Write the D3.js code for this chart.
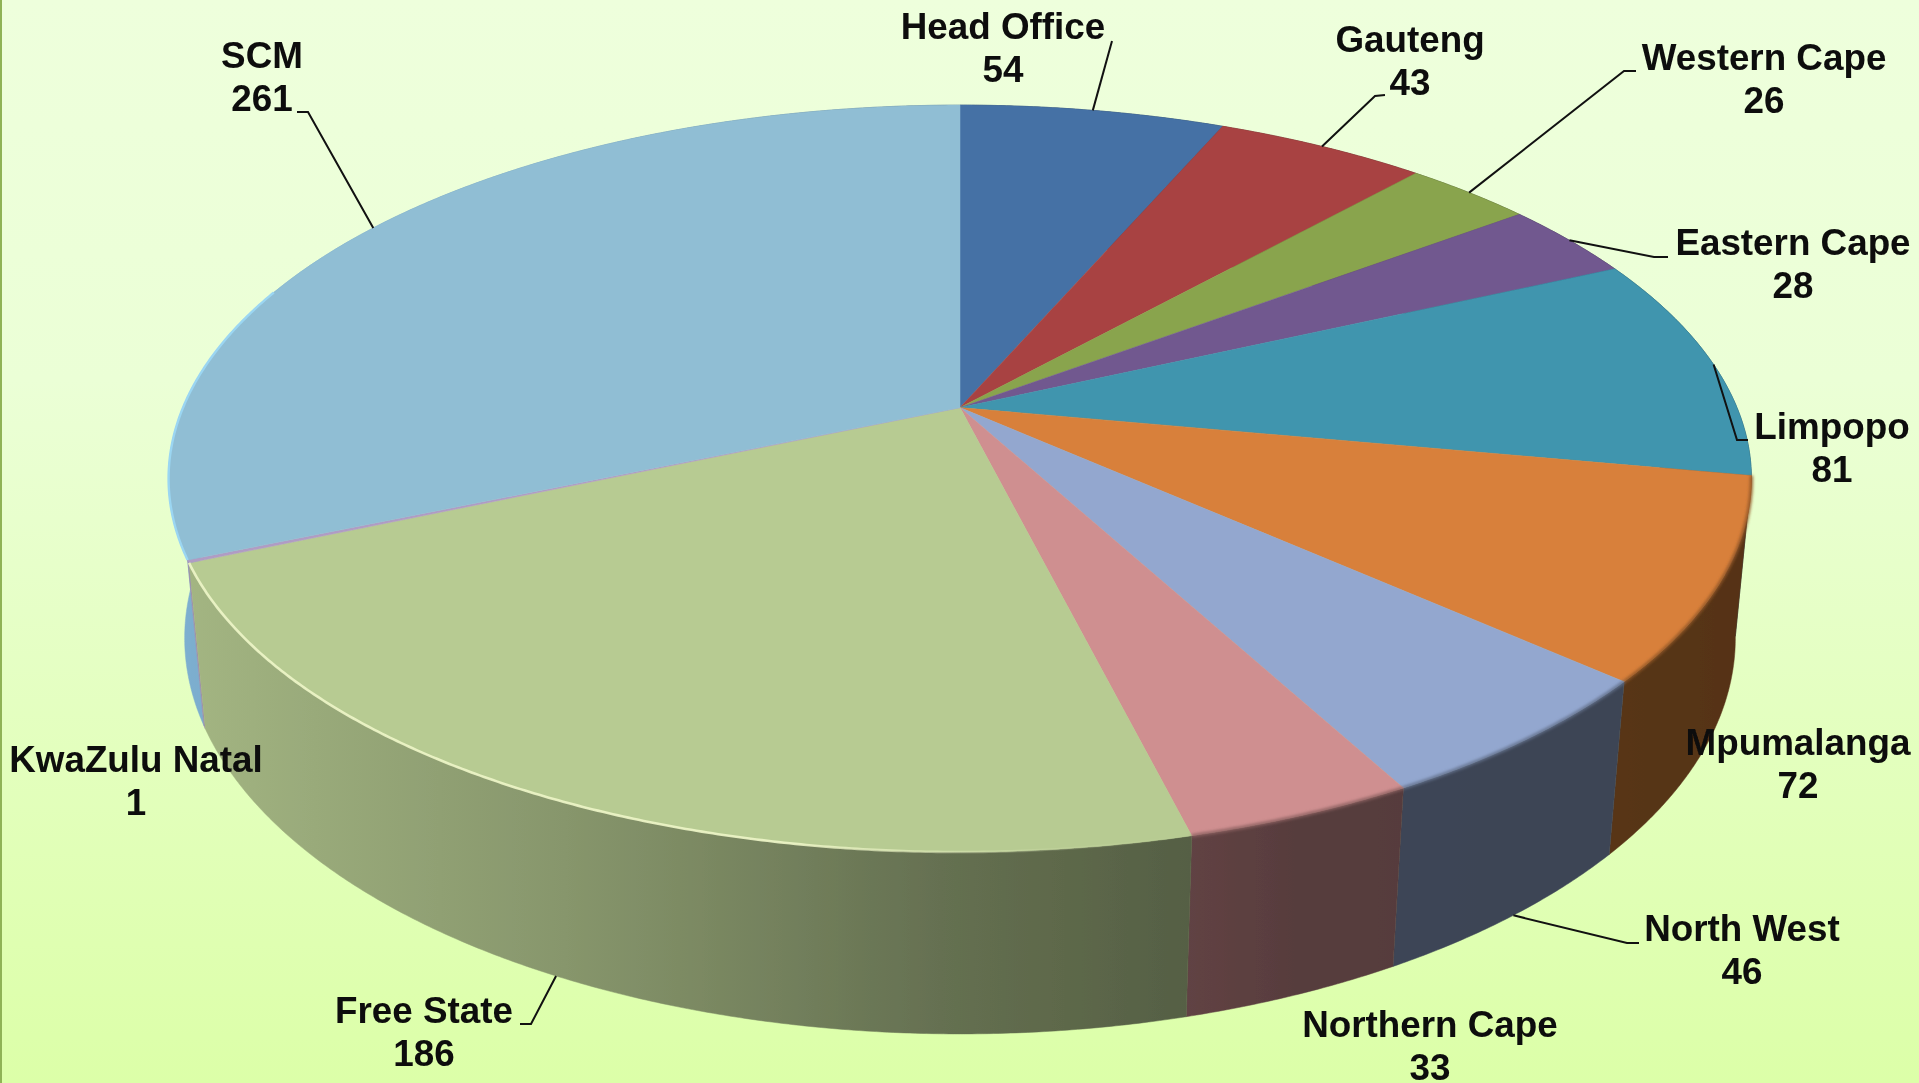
<!DOCTYPE html>
<html>
<head>
<meta charset="utf-8">
<script src="https://cdn.jsdelivr.net/npm/d3@7"></script>
<style>
  html, body { margin: 0; padding: 0; overflow: hidden; }
  svg { display: block; }
  text { font-family: "Liberation Sans", Arial, sans-serif; font-weight: bold; fill: #0a0a0a; }
</style>
</head>
<body>
<div id="chart"></div>
<script>
// Data
const regions = ["Head Office", "Gauteng", "Western Cape", "Eastern Cape", "Limpopo", "Mpumalanga",
                 "North West", "Northern Cape", "Free State", "KwaZulu Natal", "SCM"];
const staff = [54, 43, 26, 28, 81, 72, 46, 33, 186, 1, 261];
const sliceColors = ["#4571a5", "#a84342", "#89a44d", "#71588f", "#3f95ae", "#d8803b",
                     "#93a7cf", "#cf8f90", "#b7cb92", "#b09cc4", "#90bed4"];
// Side walls use the slice colour, except the SCM one which is a cleaner blue
const wallColors = ["#4571a5", "#a84342", "#89a44d", "#71588f", "#3f95ae", "#d8803b",
                    "#93a7cf", "#cf8f90", "#b7cb92", "#b09cc4", "#8cc4e8"];

// Where the labels sit (centre x, baseline of first line)
const labelPos = {
    "Head Office": [1003, 39], "Gauteng": [1410, 52], "Western Cape": [1764, 70],
    "Eastern Cape": [1793, 255], "Limpopo": [1832, 439], "Mpumalanga": [1798, 755],
    "North West": [1742, 941], "Northern Cape": [1430, 1037], "Free State": [424, 1023],
    "KwaZulu Natal": [136, 772], "SCM": [262, 68]
};

// Leader lines: start points at the label, the end is worked out from the slice
const leaders = {
    "Head Office": { pts: [[1112, 41]], onBase: false },
    "Gauteng": { pts: [[1385, 95], [1375, 96]], onBase: false },
    "Western Cape": { pts: [[1636, 71], [1624, 71]], onBase: false },
    "Eastern Cape": { pts: [[1668, 257], [1654, 257]], onBase: false },
    "Limpopo": { pts: [[1748, 440], [1737, 440]], onBase: false },
    "North West": { pts: [[1639, 943], [1627, 943]], onBase: true },
    "Free State": { pts: [[520, 1024], [531, 1024]], onBase: true },
    "SCM": { pts: [[297, 112], [308, 112]], onBase: false }
};

const width = 1919, height = 1083;

// Perspective of the tilted pie: unit circle -> screen
const cx = 960, cy = 407.6, a = 777, b = 360, k = -0.19;
const depthW = 0.02, depthY = 168;

function project(angle, onBase) {
    const u = Math.sin(angle), v = -Math.cos(angle);
    const w = 1 + k * v;
    const wz = onBase ? w + depthW : w;
    return [
        cx + a * u / wz,
        (b * v + cy * w + (onBase ? depthY : 0)) / wz
    ];
}

function arcAngles(start, end) {
    const n = Math.max(2, Math.ceil((end - start) / 0.006));
    return d3.range(n + 1).map(i => start + (end - start) * i / n);
}

const svg = d3.select("#chart")
    .append("svg")
    .attr("width", width)
    .attr("height", height);

const defs = svg.append("defs");

// Background
const bg = defs.append("linearGradient")
    .attr("id", "bg")
    .attr("x1", 0).attr("x2", 0).attr("y1", 0).attr("y2", 1);
bg.append("stop").attr("offset", "0%").attr("stop-color", "#eeffdc");
bg.append("stop").attr("offset", "35%").attr("stop-color", "#ebffd6");
bg.append("stop").attr("offset", "100%").attr("stop-color", "#dcffa8");

svg.append("rect")
    .attr("width", width).attr("height", height)
    .attr("fill", "url(#bg)");
svg.append("rect")
    .attr("width", 2).attr("height", height)
    .attr("fill", "#8fb356");

defs.append("filter").attr("id", "soft")
    .append("feGaussianBlur").attr("stdDeviation", 0.7);
defs.append("filter").attr("id", "softer")
    .append("feGaussianBlur").attr("stdDeviation", 1.6);
defs.append("filter").attr("id", "softText")
    .append("feGaussianBlur").attr("stdDeviation", 0.45);

// Slices
const slices = d3.pie().sort(null).value(d => d.value)(
    regions.map((name, i) => ({ name: name, value: staff[i], color: sliceColors[i], wall: wallColors[i] }))
);

const line = d3.line();

// How dark the side wall gets going from left to right
const wallShade = d3.scaleLinear()
    .domain([168, 306, 612, 918, 1185, 1300, 1753])
    .range([0.9, 0.84, 0.72, 0.56, 0.47, 0.42, 0.40])
    .clamp(true);

function shaded(color, x) {
    const c = d3.rgb(color), s = wallShade(x);
    return d3.rgb(c.r * s, c.g * s, c.b * s).formatHex();
}

const pie = svg.append("g").attr("filter", "url(#soft)");

// Walls first, back to front on each side
const wallOrder = [0, 1, 2, 3, 10, 9, 4, 5, 6, 7, 8];
wallOrder.forEach(i => {
    const s = slices[i];
    const angles = arcAngles(s.startAngle, s.endAngle);
    const topPts = angles.map(t => project(t, false));
    const basePts = angles.map(t => project(t, true));
    const all = topPts.concat(basePts.slice().reverse());

    const x0 = d3.min(all, p => p[0]), x1 = d3.max(all, p => p[0]);
    const grad = defs.append("linearGradient")
        .attr("id", "wall" + i)
        .attr("gradientUnits", "userSpaceOnUse")
        .attr("x1", x0).attr("x2", x1).attr("y1", 0).attr("y2", 0);
    d3.range(9).forEach(j => {
        grad.append("stop")
            .attr("offset", j / 8)
            .attr("stop-color", shaded(s.data.wall, x0 + (x1 - x0) * j / 8));
    });

    pie.append("path")
        .attr("d", line(all) + "Z")
        .attr("fill", "url(#wall" + i + ")")
        .attr("stroke", "url(#wall" + i + ")")
        .attr("stroke-width", 0.5);
});

// Top face
pie.selectAll("path.top")
    .data(slices)
    .enter().append("path")
    .attr("class", "top")
    .attr("d", d => {
        const pts = arcAngles(d.startAngle, d.endAngle).map(t => project(t, false));
        return line([[cx, cy]].concat(pts)) + "Z";
    })
    .attr("fill", d => d.data.color)
    .attr("stroke", d => d.data.color)
    .attr("stroke-width", 0.5);

// Bevel highlight on the rim: pale on the lit side, fading out to the right
const rim = defs.append("linearGradient")
    .attr("id", "rimFree")
    .attr("gradientUnits", "userSpaceOnUse")
    .attr("x1", 190).attr("x2", 1190).attr("y1", 0).attr("y2", 0);
rim.append("stop").attr("offset", 0).attr("stop-color", "#eef6c8").attr("stop-opacity", 0.9);
rim.append("stop").attr("offset", 0.6).attr("stop-color", "#eef6c8").attr("stop-opacity", 0.9);
rim.append("stop").attr("offset", 0.85).attr("stop-color", "#eef6c8").attr("stop-opacity", 0.15);
rim.append("stop").attr("offset", 1).attr("stop-color", "#eef6c8").attr("stop-opacity", 0);

const free = slices[regions.indexOf("Free State")];
pie.append("path")
    .attr("d", line(arcAngles(free.startAngle, free.endAngle).map(t => project(t, false))))
    .attr("fill", "none")
    .attr("stroke", "url(#rimFree)")
    .attr("stroke-width", 2.6);

const scm = slices[regions.indexOf("SCM")];
pie.append("path")
    .attr("d", line(arcAngles(scm.startAngle, scm.startAngle + 0.75).map(t => project(t, false))))
    .attr("fill", "none")
    .attr("stroke", "#9bd6f2")
    .attr("stroke-width", 2.4);

// Dark soft edge where the top meets the dark walls on the right
["Mpumalanga", "North West", "Northern Cape"].forEach(name => {
    const s = slices[regions.indexOf(name)];
    svg.append("path")
        .attr("d", line(arcAngles(s.startAngle, s.endAngle).map(t => project(t, false))))
        .attr("fill", "none")
        .attr("stroke", d3.rgb(s.data.color).darker(1.1))
        .attr("stroke-width", 3)
        .attr("filter", "url(#softer)");
});

// Leader lines
const leaderG = svg.append("g");
slices.forEach(s => {
    const l = leaders[s.data.name];
    if (!l) return;
    const end = project((s.startAngle + s.endAngle) / 2, l.onBase);
    leaderG.append("path")
        .attr("d", line(l.pts.concat([end])))
        .attr("fill", "none")
        .attr("stroke", "#111")
        .attr("stroke-width", 2);
});

// Labels
const labels = svg.append("g")
    .attr("text-anchor", "middle")
    .attr("font-size", 36.8)
    .attr("filter", "url(#softText)");

slices.forEach(s => {
    const p = labelPos[s.data.name];
    labels.append("text")
        .attr("x", p[0]).attr("y", p[1])
        .text(s.data.name);
    labels.append("text")
        .attr("x", p[0]).attr("y", p[1] + 43)
        .text(s.data.value);
});
</script>
</body>
</html>
